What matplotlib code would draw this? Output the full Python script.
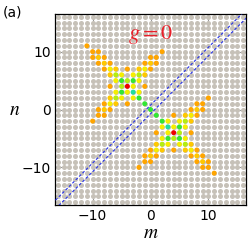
import matplotlib
matplotlib.use("Agg")
import matplotlib.pyplot as plt
import numpy as np
from matplotlib.ticker import MultipleLocator

plt.rcParams["mathtext.fontset"] = "stix"

# lattice sites
m_sites = list(range(-16, 17))
n_sites = list(range(-16, 17))

# highlighted sites: m, n, intensity level (1 orange ... 6 teal, 7 red)
m_hot = [-4, -5, -3, -5, -3, -4, -5, -3, -4, -4, -1, -7, -4,
         -6, -7, -8, -9, -10, -11, -5, -6, -7, -8, -9, -6, -7, -8, -9, -10,
         -2, -1, 0, -2, -3,
         -2, -1, 0, 1, 2, -3, -2, -1, 0, -2, -1, 0, 1,
         -6, -7, -8, -9, -10, -6, -7, -8, -9, -5, -6, -7, -8,
         4, 5, 5, 3, 3, 5, 4, 4, 3, 1, 4, 4, 7,
         6, 7, 8, 9, 10, 11, 6, 7, 8, 9, 10, 5, 6, 7, 8, 9,
         2, 1, 3, 2,
         6, 7, 8, 9, 10, 6, 7, 8, 9, 5, 6, 7, 8,
         2, 1, 0, -1, -2, 3, 2, 1, 0, 2, 1, 0, -1]
n_hot = [4, 5, 5, 3, 3, 5, 4, 4, 3, 1, 4, 4, 7,
         6, 7, 8, 9, 10, 11, 6, 7, 8, 9, 10, 5, 6, 7, 8, 9,
         2, 1, 0, 3, 2,
         6, 7, 8, 9, 10, 6, 7, 8, 9, 5, 6, 7, 8,
         2, 1, 0, -1, -2, 3, 2, 1, 0, 2, 1, 0, -1,
         -4, -5, -3, -5, -3, -4, -5, -3, -4, -4, -1, -7, -4,
         -6, -7, -8, -9, -10, -11, -5, -6, -7, -8, -9, -6, -7, -8, -9, -10,
         -2, -1, -2, -3,
         -2, -1, 0, 1, 2, -3, -2, -1, 0, -2, -1, 0, 1,
         -6, -7, -8, -9, -10, -6, -7, -8, -9, -5, -6, -7, -8]
level_hot = [7, 5, 5, 5, 6, 4, 4, 3, 3, 1, 1, 1, 1,
             4, 3, 2, 2, 1, 1, 3, 2, 1, 1, 1, 3, 2, 1, 1, 1,
             5, 5, 5, 3, 3,
             4, 3, 2, 1, 1, 3, 2, 1, 1, 3, 2, 1, 1,
             4, 3, 2, 1, 1, 3, 2, 1, 1, 3, 2, 1, 1,
             7, 5, 5, 5, 6, 4, 4, 3, 3, 1, 1, 1, 1,
             4, 3, 2, 2, 1, 1, 3, 2, 1, 1, 1, 3, 2, 1, 1, 1,
             5, 5, 3, 3,
             4, 3, 2, 1, 1, 3, 2, 1, 1, 3, 2, 1, 1,
             4, 3, 2, 1, 1, 3, 2, 1, 1, 3, 2, 1, 1]

level_colors = {1: "#FFA500", 2: "#FFC800", 3: "#F5EE00", 4: "#B4EE10",
                5: "#33E633", 6: "#20DDA0", 7: "#EE0000"}
gray = "#C6C1B8"

line_offsets = [0.75, -0.75]

fig = plt.figure(figsize=(2.49, 2.49), dpi=100)
ax = fig.add_axes([55/249, 1-205/249, 191/249, 191/249])

M, N = np.meshgrid(m_sites, n_sites)
ms = 13
ax.scatter(M.ravel(), N.ravel(), s=ms, c=gray, linewidths=0, zorder=2)
ax.scatter(m_hot, n_hot, s=ms, c=[level_colors[l] for l in level_hot],
           linewidths=0, zorder=3)

xs = np.array([-17, 17])
for off in line_offsets:
    ax.plot(xs, xs + off, color="#2430E8", lw=0.8, ls=(0, (2.5, 1.8)), zorder=4)

ax.set_xlim(-16.5, 16.5)
ax.set_ylim(-16.5, 16.5)
ax.xaxis.set_major_locator(MultipleLocator(10))
ax.yaxis.set_major_locator(MultipleLocator(10))
ax.xaxis.set_minor_locator(MultipleLocator(5))
ax.yaxis.set_minor_locator(MultipleLocator(5))
ax.tick_params(which="both", direction="in", top=True, right=True,
               labelsize=10, width=0.8, color="#333333", pad=3)
ax.tick_params(which="major", length=4)
ax.tick_params(which="minor", length=2.5)
for sp in ax.spines.values():
    sp.set_linewidth(0.9)

ax.set_xlabel(r"$m$", fontsize=14, labelpad=0)
ax.set_ylabel(r"$n$", fontsize=14, rotation=0, labelpad=5, va="center")
ax.text(0, 12.9, r"$g = 0$", color="#E8202A", fontsize=16, ha="center",
        va="center", zorder=5)
fig.text(3/249, 1-12/249, "(a)", fontsize=10, ha="left", va="center")

fig.savefig("out.png", dpi=100)
